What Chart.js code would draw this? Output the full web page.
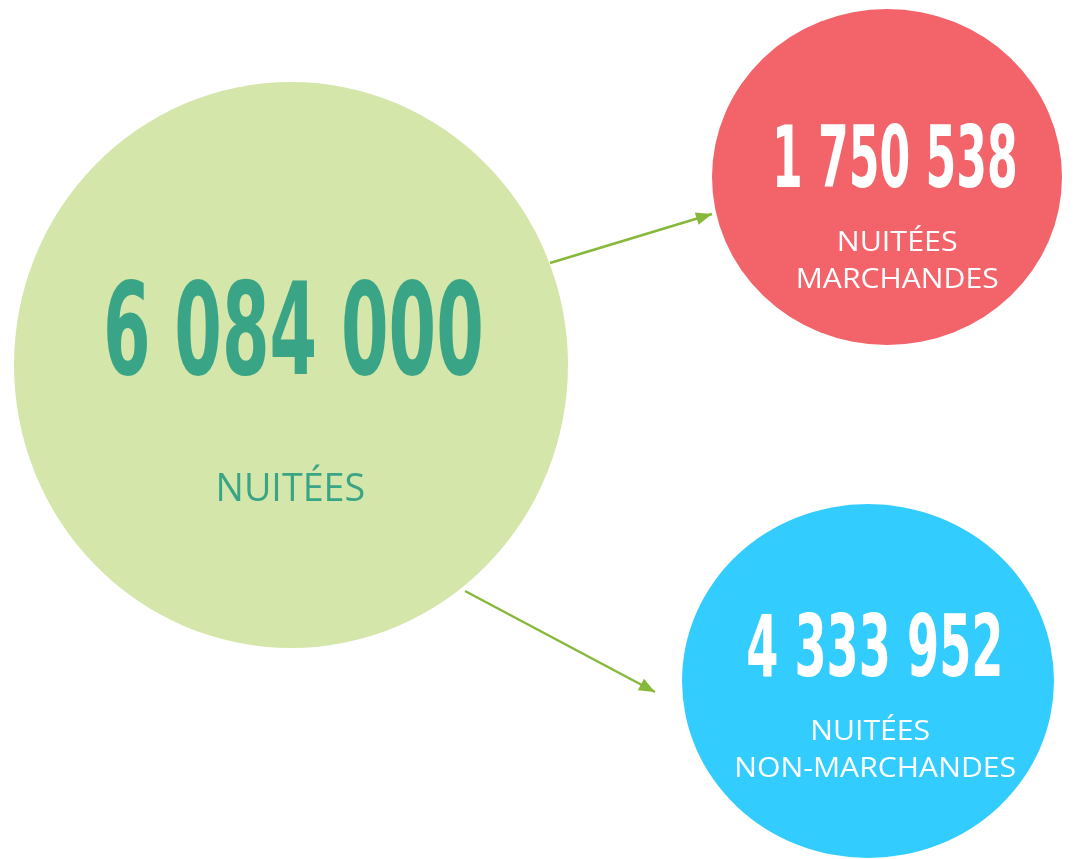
<!DOCTYPE html>
<html>
<head>
<meta charset="utf-8">
<script src="https://cdn.jsdelivr.net/npm/chart.js@4.4.0/dist/chart.umd.min.js"></script>
<style>
  body { margin: 0; background: #fff; }
  #wrap { width: 1076px; height: 859px; }
</style>
</head>
<body>
<div id="wrap"><canvas id="bubbles"></canvas></div>
<script>
// data
var labels = ['NUITÉES', 'NUITÉES\nMARCHANDES', 'NUITÉES\nNON-MARCHANDES'];
var values = [6084000, 1750538, 4333952];

// layout (chart units, 0..1076 x 0..859)
var centerX = [291, 887, 868];
var centerY = [365, 177, 681];
var radiusX = [277, 175, 186];
var radiusY = [283, 168, 177];
var fills = ['#d4e6aa', '#f2646a', '#33ccff'];
var textColors = ['#3aa586', '#ffffff', '#ffffff'];

// number: center x, baseline, cap height, width
var numX = [294, 896, 874];
var numBase = [374, 187, 676];
var numCap = [93, 62, 62];
var numW = [374, 239, 252];
// label lines: center x, baseline, cap height, width
var labX = [[291], [898, 898], [871, 876]];
var labBase = [[501], [251, 288], [740, 777]];
var labCap = [[27], [19, 19], [19, 19]];
var labW = [[145], [118, 200], [117, 279]];

var arrowFrom = [[550, 263], [465, 591]];
var arrowTo = [[712, 214], [655, 692]];

function frNumber(n) {
  return String(n).replace(/\B(?=(\d{3})+(?!\d))/g, ' ');
}

function fitText(ctx, txt, cx, base, cap, w, family, weight, capRatio) {
  var size = cap / capRatio;
  ctx.save();
  ctx.font = weight + ' ' + size + 'px ' + family;
  var m = ctx.measureText(txt);
  var tw = m.actualBoundingBoxLeft + m.actualBoundingBoxRight;
  var sx = w / tw;
  ctx.translate(cx, base);
  ctx.scale(sx, 1);
  ctx.textAlign = 'left';
  ctx.textBaseline = 'alphabetic';
  ctx.fillText(txt, -tw / 2 + m.actualBoundingBoxLeft, 0);
  ctx.restore();
}

var infoPlugin = {
  id: 'info',
  beforeDatasetsDraw: function(chart) {
    var ctx = chart.ctx, xs = chart.scales.x, ys = chart.scales.y;
    for (var i = 0; i < values.length; i++) {
      var cx = xs.getPixelForValue(centerX[i]);
      var cy = ys.getPixelForValue(centerY[i]);
      var rx = Math.abs(xs.getPixelForValue(centerX[i] + radiusX[i]) - cx);
      var ry = Math.abs(ys.getPixelForValue(centerY[i] + radiusY[i]) - cy);
      ctx.save();
      ctx.fillStyle = fills[i];
      ctx.beginPath();
      ctx.ellipse(cx, cy, rx, ry, 0, 0, Math.PI * 2);
      ctx.fill();
      ctx.restore();
    }
  },
  afterDatasetsDraw: function(chart) {
    var ctx = chart.ctx, xs = chart.scales.x, ys = chart.scales.y;
    // arrow heads
    for (var a = 0; a < arrowTo.length; a++) {
      var x0 = xs.getPixelForValue(arrowFrom[a][0]), y0 = ys.getPixelForValue(arrowFrom[a][1]);
      var x1 = xs.getPixelForValue(arrowTo[a][0]), y1 = ys.getPixelForValue(arrowTo[a][1]);
      var ang = Math.atan2(y1 - y0, x1 - x0);
      var len = 16, half = 6.5;
      ctx.save();
      ctx.fillStyle = '#86b83a';
      ctx.translate(x1, y1);
      ctx.rotate(ang);
      ctx.beginPath();
      ctx.moveTo(0, 0);
      ctx.lineTo(-len, -half);
      ctx.lineTo(-len, half);
      ctx.closePath();
      ctx.fill();
      ctx.restore();
    }
    // texts
    for (var i = 0; i < values.length; i++) {
      ctx.fillStyle = textColors[i];
      fitText(ctx, frNumber(values[i]), xs.getPixelForValue(numX[i]), ys.getPixelForValue(numBase[i]),
        numCap[i], numW[i], '"Liberation Sans Narrow", "DejaVu Sans Condensed", sans-serif', 'bold', 0.72);
      var lines = labels[i].split('\n');
      for (var k = 0; k < lines.length; k++) {
        fitText(ctx, lines[k], xs.getPixelForValue(labX[i][k]), ys.getPixelForValue(labBase[i][k]),
          labCap[i][k], labW[i][k], '"Open Sans", sans-serif', 'normal', 0.714);
      }
    }
  }
};

var arrowSets = arrowFrom.map(function(p, a) {
  return {
    data: [{ x: p[0], y: p[1] }, { x: arrowTo[a][0], y: arrowTo[a][1] }],
    showLine: true,
    borderColor: '#86b83a',
    borderWidth: 2.5,
    pointRadius: 0
  };
});

new Chart(document.getElementById('bubbles'), {
  type: 'scatter',
  data: { datasets: arrowSets },
  options: {
    responsive: true,
    maintainAspectRatio: false,
    animation: false,
    layout: { padding: 0 },
    plugins: { legend: { display: false }, tooltip: { enabled: false } },
    scales: {
      x: { type: 'linear', min: 0, max: 1076, display: false },
      y: { type: 'linear', min: 0, max: 859, reverse: true, display: false }
    }
  },
  plugins: [infoPlugin]
});
</script>
</body>
</html>
